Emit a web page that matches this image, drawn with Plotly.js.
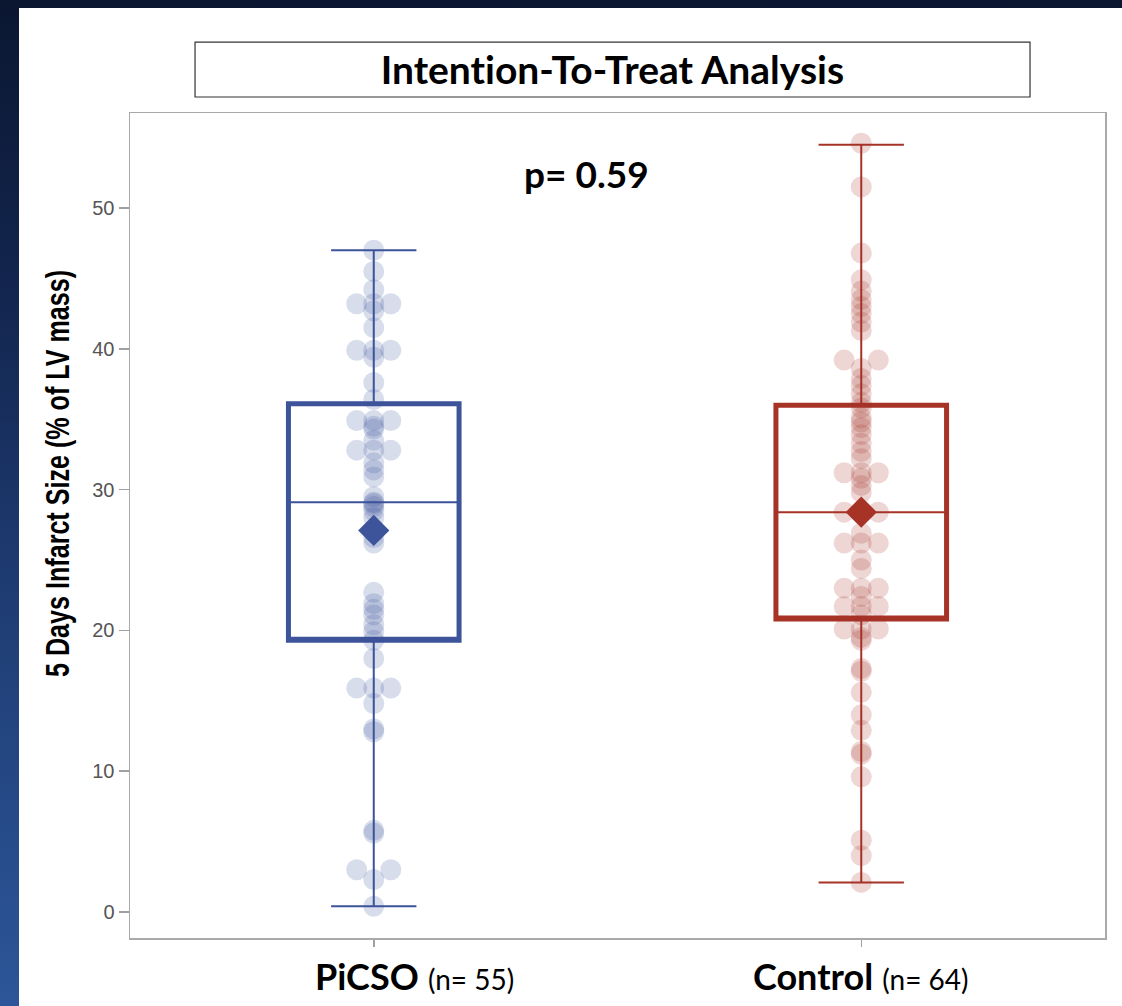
<!DOCTYPE html>
<html>
<head>
<meta charset="utf-8">
<script src="https://cdn.plot.ly/plotly-3.0.1.min.js"></script>
<style>
  html, body { margin: 0; padding: 0; }
  body {
    width: 1122px; height: 1006px; overflow: hidden; position: relative;
    background: linear-gradient(to bottom, #0b1731 0%, #132650 30%, #1f3d74 60%, #2c5699 100%);
  }
  #chart { position: absolute; left: 19px; top: 8px; width: 1103px; height: 998px; background: #fff; }
  #chart text { font-variant-ligatures: none; font-feature-settings: "liga" 0, "clig" 0; }
</style>
</head>
<body>
<div id="chart"></div>
<script>
// ---------------- data ----------------
const categories = ['PiCSO', 'Control'];
const groupCounts = [55, 64];
const chartTitle = 'Intention-To-Treat Analysis';
const yAxisTitle = '5 Days Infarct Size (% of LV mass)';
const pValueText = 'p= 0.59';
const yTickValues = [0, 10, 20, 30, 40, 50];

const picsoValues = [47.0, 45.5, 44.2, 43.2, 43.2, 43.2, 42.7, 41.5, 39.9, 39.9,
  39.9, 39.4, 37.6, 36.4, 34.9, 34.9, 34.9, 34.3, 34.5, 33.5,
  32.8, 32.8, 32.8, 31.9, 31.4, 30.9, 29.5, 29.1, 29.0, 28.8,
  28.5, 28.0, 27.0, 26.6, 26.2, 22.7, 21.9, 21.5, 21.1, 20.4,
  19.9, 19.3, 18.0, 15.9, 15.9, 15.9, 14.8, 12.8, 13.0, 5.6,
  5.8, 3.0, 3.0, 2.3, 0.4];

const controlValues = [54.6, 51.5, 46.8, 44.9, 44.1, 43.5, 43.0, 42.5, 41.9, 41.3,
  39.2, 39.2, 38.6, 37.9, 37.4, 36.8, 36.2, 35.8, 35.1, 34.8,
  34.4, 33.9, 33.3, 32.7, 32.2, 31.2, 31.2, 31.2, 30.8, 30.3,
  29.8, 28.4, 28.4, 28.4, 26.9, 26.2, 26.2, 26.2, 25.0, 24.4,
  23.0, 23.0, 23.0, 22.4, 21.7, 21.7, 21.7, 21.1, 20.1, 20.1,
  20.1, 19.5, 19.3, 17.1, 17.3, 15.6, 14.0, 12.9, 11.2, 11.4,
  9.6, 5.1, 4.0, 2.1];

// box statistics
const q1Values = [19.3, 20.8];
const medianValues = [29.1, 28.4];
const q3Values = [36.1, 36.0];
const whiskerLow = [0.4, 2.1];
const whiskerHigh = [47.0, 54.5];
const meanValues = [27.1, 28.4];

// ---------------- styles ----------------
const lineColors = ['#3d539a', '#a63326'];
const pointColors = ['rgba(61,83,154,0.2)', 'rgba(166,51,38,0.2)'];
const jitterStep = 0.035;
const labelFont = 'Lato, "Open Sans", sans-serif';
const yTitleLength = 407;

// spread identical values side by side (centre, left, right, ...)
function jitterX(values, centre) {
  const seen = {};
  return values.map(v => {
    const key = v.toFixed(2);
    const count = values.filter(w => w.toFixed(2) === key).length;
    const k = seen[key] || 0; seen[key] = k + 1;
    let slot;
    if (count % 2 === 1) { slot = k === 0 ? 0 : (k % 2 === 1 ? -Math.ceil(k / 2) : Math.ceil(k / 2)); }
    else { slot = (k % 2 === 0 ? -1 : 1) * (Math.floor(k / 2) + 1); }
    return centre + slot * jitterStep;
  });
}

const allValues = [picsoValues, controlValues];
const traces = [];

allValues.forEach((vals, i) => {
  traces.push({
    type: 'scatter', mode: 'markers', name: categories[i] + ' points',
    x: jitterX(vals, i), y: vals,
    marker: { size: 21, color: pointColors[i], line: { width: 0 } },
    hoverinfo: 'y', showlegend: false
  });
});

categories.forEach((c, i) => {
  // thin box: whiskers, caps and median
  traces.push({
    type: 'box', name: c, x: [i],
    q1: [q1Values[i]], median: [medianValues[i]], q3: [q3Values[i]],
    lowerfence: [whiskerLow[i]], upperfence: [whiskerHigh[i]],
    width: 0.35, whiskerwidth: 0.5, boxpoints: false,
    line: { color: lineColors[i], width: 2 }, fillcolor: 'rgba(0,0,0,0)',
    showlegend: false, hoverinfo: 'skip'
  });
  // thick box outline
  traces.push({
    type: 'box', name: c + ' box', x: [i],
    q1: [q1Values[i]], median: [q1Values[i]], q3: [q3Values[i]],
    lowerfence: [q1Values[i]], upperfence: [q3Values[i]],
    width: 0.35, whiskerwidth: 0, boxpoints: false,
    line: { color: lineColors[i], width: 5 }, fillcolor: 'rgba(0,0,0,0)',
    showlegend: false, hoverinfo: 'skip'
  });
});

traces.push({
  type: 'scatter', mode: 'markers', name: 'Mean',
  x: categories.map((c, i) => i), y: meanValues,
  marker: { symbol: 'diamond', size: 24, color: lineColors, line: { width: 0 } },
  showlegend: false
});

const xLabelShift = [41, 0];
const annotations = categories.map((c, i) => ({
  xref: 'x', yref: 'paper', x: i, y: 0, yanchor: 'top', xanchor: 'center',
  xshift: xLabelShift[i], yshift: -14, showarrow: false,
  text: '<b>' + c + '</b> <span style="font-size:28px">(n= ' + groupCounts[i] + ')</span>',
  font: { family: labelFont, size: 36, color: '#000' }
}));
annotations.push({
  xref: 'paper', yref: 'paper', x: 0.4687, y: 0.956, showarrow: false,
  text: '<b>' + pValueText + '</b>', font: { family: labelFont, size: 37, color: '#000' }
});
annotations.push({
  xref: 'paper', yref: 'paper', x: -0.0749, y: 0.5636, showarrow: false, textangle: -90,
  xanchor: 'center', yanchor: 'middle',
  text: '<b>' + yAxisTitle + '</b>',
  font: { family: '"Liberation Sans", Arial, sans-serif', size: 34, color: '#000' }
});

const layout = {
  width: 1103, height: 998,
  margin: { l: 111, r: 17, t: 105, b: 68 },
  paper_bgcolor: '#ffffff', plot_bgcolor: '#ffffff',
  showlegend: false,
  title: {
    text: '<b>' + chartTitle + '</b>', x: 0.538, xanchor: 'center',
    y: 0.9379, yanchor: 'middle', yref: 'container',
    font: { family: labelFont, size: 39, color: '#000' }
  },
  xaxis: {
    range: [-0.5, 1.5], tickvals: categories.map((c, i) => i), showticklabels: false,
    ticks: 'outside', ticklen: 7, tickcolor: '#a0a0a0', tickwidth: 1.5,
    showline: true, linecolor: '#a9a9a9', linewidth: 1.5, mirror: true,
    showgrid: false, zeroline: false, fixedrange: true
  },
  yaxis: {
    range: [-1.85, 56.75], tickvals: yTickValues,
    ticks: 'outside', ticklen: 10, tickcolor: '#a0a0a0', tickwidth: 1.5,
    tickfont: { family: '"Liberation Sans", Arial, sans-serif', size: 20, color: '#555' },
    showline: true, linecolor: '#a9a9a9', linewidth: 1.5, mirror: true,
    showgrid: false, zeroline: false, fixedrange: true
  },
  shapes: [{
    type: 'rect', xref: 'paper', yref: 'paper',
    x0: 0.0667, x1: 0.9231, y0: 1.0194, y1: 1.086,
    line: { color: '#333', width: 1.2 }, fillcolor: 'rgba(0,0,0,0)'
  }],
  annotations: annotations
};

Plotly.newPlot('chart', traces, layout, { displayModeBar: false, staticPlot: true }).then(gd => {
  // the reference draws the y title in a condensed face: squeeze it along its baseline
  gd.querySelectorAll('text.annotation-text').forEach(t => {
    if (t.textContent === yAxisTitle) {
      const s = yTitleLength / t.getComputedTextLength();
      t.style.transformBox = 'fill-box';
      t.style.transformOrigin = 'center';
      t.style.transform = 'scaleX(' + s.toFixed(3) + ')';
    }
  });
});
</script>
</body>
</html>
